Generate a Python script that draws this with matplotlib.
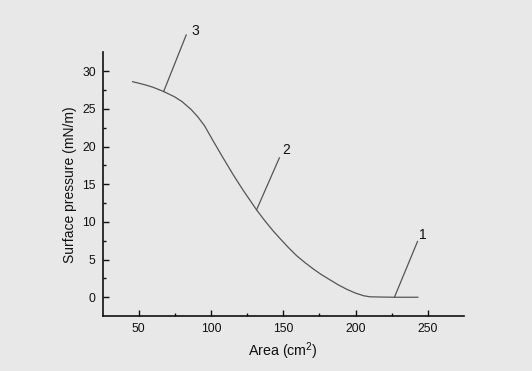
import matplotlib.pyplot as plt
import numpy as np

plt.rcParams['font.family'] = ['Liberation Sans', 'DejaVu Sans']
plt.rcParams['mathtext.fontset'] = 'custom'
plt.rcParams['mathtext.rm'] = 'Liberation Sans'

# isotherm
area = [45.7, 50, 55, 60, 67.2, 74.7, 80, 86.3, 91, 95.5, 101.3, 108, 115.2,
        122.2, 131.5, 137, 143.0, 147.7, 153, 159.3, 165, 170.8, 176, 182.4,
        188, 194.0, 200, 205.6, 210, 217.2, 227, 235, 243.1]
pressure = [28.6, 28.4, 28.15, 27.85, 27.3, 26.6, 25.95, 24.9, 23.9, 22.75, 20.8,
            18.6, 16.3, 14.2, 11.6, 10.2, 8.8, 7.8, 6.7, 5.5, 4.6, 3.75, 3.05,
            2.3, 1.65, 1.05, 0.55, 0.2, 0.06, 0.03, 0.0, 0.0, 0.0]

# numbered leader labels: (point on curve, end of leader, text position)
labels = ['1', '2', '3']
curve_pts = [(226.9, 0.0), (131.5, 11.6), (67.2, 27.3)]
leader_ends = [(242.9, 7.4), (147.3, 18.5), (82.8, 34.8)]
text_pts = [(244.0, 8.2), (149.5, 19.6), (86.3, 35.3)]

bg = '#e8e8e8'
fig = plt.figure(figsize=(5.32, 3.71), dpi=100, facecolor=bg)
ax = fig.add_axes([0.193, 0.148, 0.679, 0.711])
ax.set_facecolor(bg)

ax.plot(area, pressure, color='#555555', lw=0.9)

for lab, p, e, t in zip(labels, curve_pts, leader_ends, text_pts):
    ax.plot([p[0], e[0]], [p[1], e[1]], color='#555555', lw=0.9, clip_on=False)
    ax.text(t[0], t[1], lab, fontsize=10, ha='left', va='center', color='#111111')

ax.set_xlim(25, 275)
ax.set_ylim(-2.5, 32.5)
ax.set_xticks([50, 100, 150, 200, 250])
ax.set_xticks(np.arange(75, 275, 50), minor=True)
ax.set_yticks([0, 5, 10, 15, 20, 25, 30])
ax.set_yticks(np.arange(2.5, 32.5, 5), minor=True)

for s in ['top', 'right']:
    ax.spines[s].set_visible(False)
for s in ['left', 'bottom']:
    ax.spines[s].set_linewidth(1.2)
    ax.spines[s].set_color('#111111')

ax.tick_params(which='major', direction='in', length=4, width=1, labelsize=8.7, pad=5,
               color='#111111', labelcolor='#111111')
ax.tick_params(which='minor', direction='in', length=2, width=1, color='#111111')

ax.set_xlabel('Area (cm$^2$)', fontsize=10.3, color='#111111')
ax.set_ylabel('Surface pressure (mN/m)', fontsize=10, color='#111111')

fig.savefig('out.png', dpi=100, facecolor=bg)
